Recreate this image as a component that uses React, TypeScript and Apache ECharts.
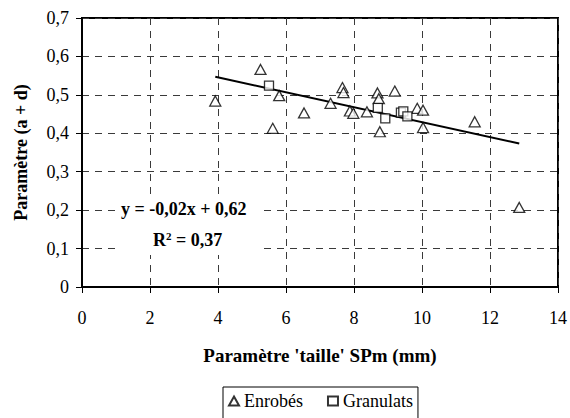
import React, { useEffect, useRef } from "react";
import * as echarts from "echarts";

const enrobesX = [3.92, 5.25, 5.61, 5.8, 6.53, 7.31, 7.66, 7.69, 7.88, 7.98, 8.38, 8.69, 8.73, 8.76, 9.2, 9.86, 10.03, 10.03, 11.55, 12.86];
const enrobesY = [0.484, 0.566, 0.413, 0.498, 0.453, 0.478, 0.519, 0.506, 0.458, 0.452, 0.456, 0.505, 0.49, 0.404, 0.51, 0.465, 0.46, 0.415, 0.43, 0.207];
const granulatsX = [5.5, 8.7, 8.92, 9.38, 9.45, 9.57];
const granulatsY = [0.524, 0.466, 0.439, 0.454, 0.457, 0.444];
const trendSlope = -0.0194;
const trendIntercept = 0.623;
const xTicks = [0, 14, 2];
const yTicks = [0, 0.7, 0.1];

const FONT = "Liberation Serif";

export default function App() {
  const ref = useRef<HTMLDivElement>(null);
  useEffect(() => {
    document.body.style.margin = "0";
    const chart = echarts.init(ref.current!, null, { renderer: "svg" });
    const allX = enrobesX.concat(granulatsX);
    const xMin = Math.min(...allX);
    const xMax = Math.max(...allX);
    const gridLine = { show: true, lineStyle: { color: "#3a3a3a", width: 1, type: [7, 6] as any } };
    chart.setOption({
      animation: false,
      backgroundColor: "#ffffff",
      textStyle: { fontFamily: FONT, color: "#000" },
      grid: { left: 82, right: 12, top: 18, bottom: 131, show: true, borderColor: "#000", borderWidth: 2, backgroundColor: "transparent" },
      xAxis: {
        type: "value",
        min: xTicks[0],
        max: xTicks[1],
        interval: xTicks[2],
        axisLine: { show: true, lineStyle: { color: "#000", width: 2 } },
        axisTick: { show: true, length: 6, lineStyle: { color: "#000" } },
        axisLabel: { fontFamily: FONT, fontSize: 18, color: "#000", margin: 22 },
        splitLine: gridLine,
        name: "Paramètre 'taille' SPm (mm)",
        nameLocation: "middle",
        nameGap: 59,
        nameTextStyle: { fontFamily: FONT, fontSize: 19, fontWeight: "bold", color: "#000" },
      },
      yAxis: {
        type: "value",
        min: yTicks[0],
        max: yTicks[1],
        interval: yTicks[2],
        axisLine: { show: true, lineStyle: { color: "#000", width: 2 } },
        axisTick: { show: true, length: 6, lineStyle: { color: "#000" } },
        axisLabel: {
          fontFamily: FONT,
          fontSize: 18,
          color: "#000",
          margin: 13,
          formatter: (v: number) => (v === 0 ? "0" : v.toFixed(1).replace(".", ",")),
        },
        splitLine: gridLine,
        name: "Paramètre (a + d)",
        nameLocation: "middle",
        nameGap: 52,
        nameTextStyle: { fontFamily: FONT, fontSize: 18, fontWeight: "bold", color: "#000" },
      },
      legend: {
        data: ["Enrobés", "Granulats"],
        left: 223,
        top: 387,
        orient: "horizontal",
        borderColor: "#000",
        borderWidth: 1,
        padding: [5, 5, 20, 5],
        itemWidth: 10,
        itemHeight: 9,
        itemGap: 24,
        textStyle: { fontFamily: FONT, fontSize: 18, color: "#000" },
      },
      series: [
        {
          name: "Enrobés",
          type: "scatter",
          symbol: "triangle",
          symbolSize: [11, 10],
          itemStyle: { color: "#fff", borderColor: "#000", borderWidth: 1.3 },
          data: enrobesX.map((x, i) => [x, enrobesY[i]]),
          z: 4,
        },
        {
          name: "Granulats",
          type: "scatter",
          symbol: "rect",
          symbolSize: 9,
          itemStyle: { color: "#fff", borderColor: "#000", borderWidth: 1.3 },
          data: granulatsX.map((x, i) => [x, granulatsY[i]]),
          z: 4,
        },
        {
          name: "Tendance",
          type: "line",
          showSymbol: false,
          symbol: "none",
          lineStyle: { color: "#000", width: 2 },
          data: [
            [xMin, trendSlope * xMin + trendIntercept],
            [xMax, trendSlope * xMax + trendIntercept],
          ],
          z: 3,
        },
      ],
      graphic: [
        {
          type: "rect",
          left: 118,
          top: 198,
          shape: { width: 145, height: 57 },
          style: { fill: "#fff" },
          z: 1,
        },
        {
          type: "text",
          left: 121,
          top: 200,
          z: 2,
          style: {
            text: "y = -0,02x + 0,62",
            fontFamily: FONT,
            fontSize: 18,
            fontWeight: "bold",
            fill: "#000",
          },
        },
        {
          type: "text",
          left: 153,
          top: 230,
          z: 2,
          style: {
            text: "R{s|2} = 0,37",
            fontFamily: FONT,
            fontSize: 18,
            fontWeight: "bold",
            fill: "#000",
            rich: { s: { fontSize: 11, fontWeight: "bold", fontFamily: FONT, verticalAlign: "top", padding: [0, 0, 9, 0] } },
          },
        },
      ],
    });
    return () => chart.dispose();
  }, []);
  return <div ref={ref} style={{ width: 570, height: 418, position: "absolute", left: 0, top: 0 }} />;
}
